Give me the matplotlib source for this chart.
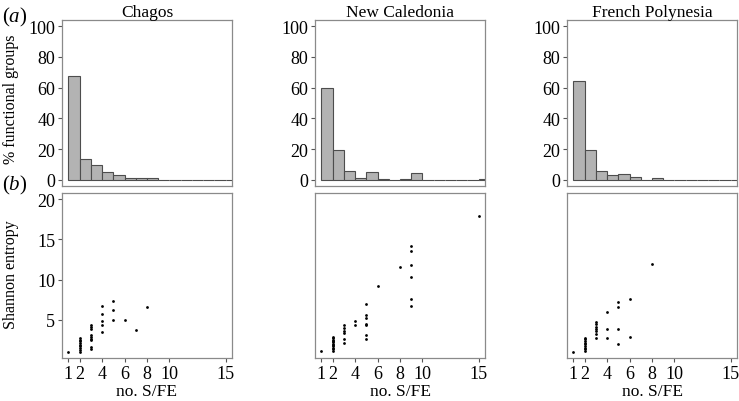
import numpy as np
import matplotlib
matplotlib.use("Agg")
import matplotlib.pyplot as plt

plt.rcParams['font.family'] = ['Liberation Serif', 'DejaVu Serif']
plt.rcParams['mathtext.fontset'] = 'custom'
plt.rcParams['mathtext.rm'] = 'Liberation Serif'
plt.rcParams['mathtext.it'] = 'Liberation Serif:italic'

regions = ['Chagos', 'New Caledonia', 'French Polynesia']

# histogram bins: no. S/FE = 1..15, percent of functional groups
bins = list(range(1, 16))
hist_chagos = [67.7, 13.3, 9.7, 5.2, 3.0, 1.2, 1.2, 1.2, 0, 0, 0, 0, 0, 0, 0]
hist_newcal = [59.8, 19.7, 5.8, 1.3, 5.2, 0.6, 0, 0.6, 4.3, 0, 0, 0, 0, 0, 0.6]
hist_frpoly = [64.4, 19.4, 5.8, 3.0, 3.9, 1.9, 0, 1.1, 0, 0, 0, 0, 0, 0, 0]

# scatter: no. S/FE vs Shannon entropy
sfe_chagos = [1,
              2, 2, 2, 2, 2, 2, 2, 2, 2,
              3, 3, 3, 3, 3, 3, 3, 3, 3,
              4, 4, 4, 4, 4,
              5, 5, 5,
              6, 7, 8]
ent_chagos = [1.03,
              2.75, 2.5, 2.3, 2.1, 1.9, 1.7, 1.45, 1.25, 1.03,
              4.38, 4.1, 3.86, 3.12, 2.9, 2.66, 2.45, 1.64, 1.4,
              6.72, 5.77, 4.84, 4.38, 3.49,
              7.34, 6.27, 4.92,
              4.92, 3.69, 6.56]

sfe_newcal = [1,
              2, 2, 2, 2, 2, 2, 2, 2, 2, 2, 2,
              3, 3, 3, 3, 3, 3,
              4, 4,
              5, 5, 5, 5, 5, 5, 5,
              6, 8,
              9, 9, 9, 9, 9, 9,
              15]
ent_newcal = [1.06,
              2.87, 2.7, 2.52, 2.36, 2.2, 2.03, 1.86, 1.7, 1.53, 1.3, 1.1,
              4.3, 3.98, 3.65, 3.32, 2.66, 2.05,
              4.84, 4.3,
              6.97, 5.53, 5.2, 4.43, 4.3, 3.07, 2.62,
              9.14, 11.56,
              14.2, 13.6, 11.76, 10.37, 7.58, 6.72,
              17.95]

sfe_frpoly = [1,
              2, 2, 2, 2, 2, 2, 2, 2, 2,
              3, 3, 3, 3, 3, 3, 3,
              4, 4, 4,
              5, 5, 5, 5,
              6, 6, 8]
ent_frpoly = [1.04,
              2.76, 2.55, 2.35, 2.15, 1.94, 1.74, 1.53, 1.33, 1.12,
              4.66, 4.41, 4.11, 3.83, 3.55, 3.25, 2.76,
              5.96, 3.83, 2.72,
              7.19, 6.54, 3.83, 1.99,
              7.56, 2.88, 11.9]

x_ticks = [1, 2, 4, 6, 8, 10, 15]
hist_ticks = [0, 20, 40, 60, 80, 100]
ent_ticks = [5, 10, 15, 20]

hists = [hist_chagos, hist_newcal, hist_frpoly]
scatters = [(sfe_chagos, ent_chagos), (sfe_newcal, ent_newcal), (sfe_frpoly, ent_frpoly)]

W, H = 739, 402
fig = plt.figure(figsize=(W / 100, H / 100), dpi=100)

lefts = [62, 315, 567]
width = 170
spine_col = '#8a8a8a'
tick_fs = 13
label_fs = 12.5

def style(ax):
    for s in ax.spines.values():
        s.set_color(spine_col)
        s.set_linewidth(0.9)
    ax.tick_params(direction='out', length=3, width=0.8, color='#555555',
                   labelsize=tick_fs, pad=2)

for i in range(3):
    # histogram panel
    axh = fig.add_axes([lefts[i] / W, 1 - 187 / H, width / W, 166 / H])
    axh.bar(bins, hists[i], width=1, align='edge', color='#b3b3b3',
            edgecolor='#4d4d4d', linewidth=0.8)
    axh.set_xlim(0.44, 15.56)
    axh.set_ylim(-4, 104)
    axh.set_xticks([])
    axh.set_yticks(hist_ticks)
    axh.set_title(regions[i], fontsize=label_fs, pad=3)
    style(axh)

    # scatter panel
    axs = fig.add_axes([lefts[i] / W, 1 - 359 / H, width / W, 165 / H])
    x, y = scatters[i]
    axs.scatter(x, y, s=4, color='black', linewidths=0)
    axs.set_xlim(0.44, 15.56)
    axs.set_ylim(0.24, 20.76)
    axs.set_xticks(x_ticks)
    if i == 0:
        axs.set_yticks(ent_ticks)
    else:
        axs.set_yticks([])
    axs.set_xlabel('no. S/FE', fontsize=label_fs, labelpad=1)
    style(axs)

fig.text(2 / W, 1 - 17 / H, r'($\mathit{a}$)', fontsize=15, va='center', ha='left')
fig.text(2 / W, 1 - 185 / H, r'($\mathit{b}$)', fontsize=15, va='center', ha='left')
fig.text(11 / W, 1 - 99 / H, '% functional groups', fontsize=11.5, rotation=90,
         va='center', ha='center')
fig.text(11 / W, 1 - 275 / H, 'Shannon entropy', fontsize=11.5, rotation=90,
         va='center', ha='center')

fig.savefig('out.png', dpi=100)
